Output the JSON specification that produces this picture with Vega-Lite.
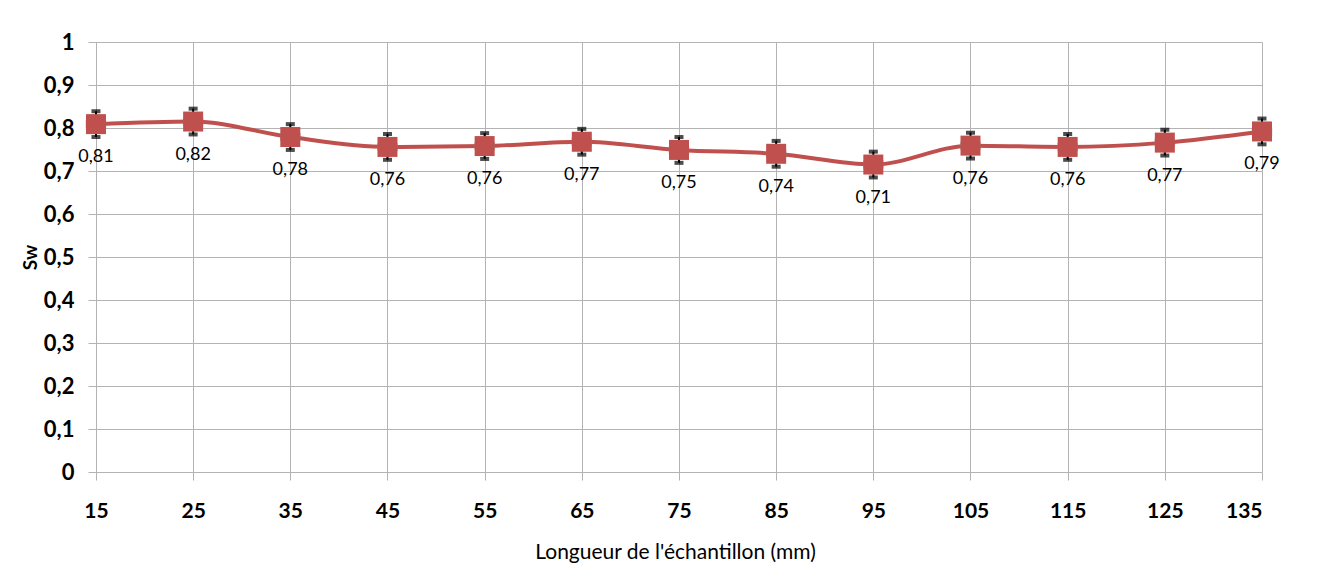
{
  "$schema": "https://vega.github.io/schema/vega-lite/v6.json",
  "width": 1174,
  "height": 430,
  "autosize": "none",
  "padding": {"left": 88, "top": 42, "right": 60, "bottom": 115},
  "background": "white",
  "config": {
    "view": {"stroke": null},
    "font": "Lato",
    "axis": {"gridColor": "#b3b3b3", "gridWidth": 1, "labelColor": "#000", "titleColor": "#000"}
  },
  "data": {
    "values": [
      {"x": 15, "sw": 0.809, "err": 0.03, "xerr": 1, "lab": "0,81"},
      {"x": 25, "sw": 0.815, "err": 0.03, "xerr": 1, "lab": "0,82"},
      {"x": 35, "sw": 0.779, "err": 0.03, "xerr": 1, "lab": "0,78"},
      {"x": 45, "sw": 0.756, "err": 0.03, "xerr": 1, "lab": "0,76"},
      {"x": 55, "sw": 0.758, "err": 0.03, "xerr": 1, "lab": "0,76"},
      {"x": 65, "sw": 0.768, "err": 0.03, "xerr": 1, "lab": "0,77"},
      {"x": 75, "sw": 0.749, "err": 0.03, "xerr": 1, "lab": "0,75"},
      {"x": 85, "sw": 0.740, "err": 0.03, "xerr": 1, "lab": "0,74"},
      {"x": 95, "sw": 0.715, "err": 0.03, "xerr": 1, "lab": "0,71"},
      {"x": 105, "sw": 0.759, "err": 0.03, "xerr": 1, "lab": "0,76"},
      {"x": 115, "sw": 0.756, "err": 0.03, "xerr": 1, "lab": "0,76"},
      {"x": 125, "sw": 0.766, "err": 0.03, "xerr": 1, "lab": "0,77"},
      {"x": 135, "sw": 0.792, "err": 0.03, "xerr": 1, "lab": "0,79"}
    ]
  },
  "encoding": {
    "x": {
      "field": "x", "type": "quantitative",
      "scale": {"domain": [14.18, 135], "nice": false, "zero": false},
      "axis": {
        "values": [15, 25, 35, 45, 55, 65, 75, 85, 95, 105, 115, 125, 135],
        "title": "Longueur de l'échantillon (mm)",
        "titleFontSize": 21, "titleFontWeight": "normal", "titlePadding": 20,
        "labelFontSize": 21, "labelFontWeight": "bold", "labelPadding": 20,
        "domain": false, "tickColor": "#b3b3b3", "tickSize": 8
      }
    },
    "y": {
      "field": "sw", "type": "quantitative",
      "scale": {"domain": [0, 1], "nice": false},
      "axis": {
        "values": [0, 0.1, 0.2, 0.3, 0.4, 0.5, 0.6, 0.7, 0.8, 0.9, 1],
        "labelExpr": "replace(format(datum.value, '.1~f'), '.', ',')",
        "title": "Sw", "titleFontSize": 19, "titleFontWeight": "bold",
        "titleX": -58, "titleBaseline": "middle",
        "labelFontSize": 22, "labelFontWeight": "bold", "labelPadding": 14,
        "domain": false, "ticks": false
      }
    }
  },
  "layer": [
    {
      "mark": {"type": "line", "interpolate": "monotone", "color": "#C0504D", "strokeWidth": 4}
    },
    {
      "mark": {"type": "errorbar", "color": "#888888", "thickness": 1, "ticks": {"size": 8, "thickness": 1, "color": "#888888"}},
      "encoding": {"xError": {"field": "xerr"}}
    },
    {
      "mark": {"type": "errorbar", "color": "#000000", "thickness": 2, "ticks": {"size": 9, "thickness": 4, "color": "#000000"}},
      "encoding": {"yError": {"field": "err"}}
    },
    {
      "mark": {"type": "square", "color": "#C0504D", "opacity": 1, "size": 400, "filled": true}
    },
    {
      "mark": {"type": "text", "dy": 33, "fontSize": 18, "color": "#000"},
      "encoding": {"text": {"field": "lab"}}
    }
  ]
}
